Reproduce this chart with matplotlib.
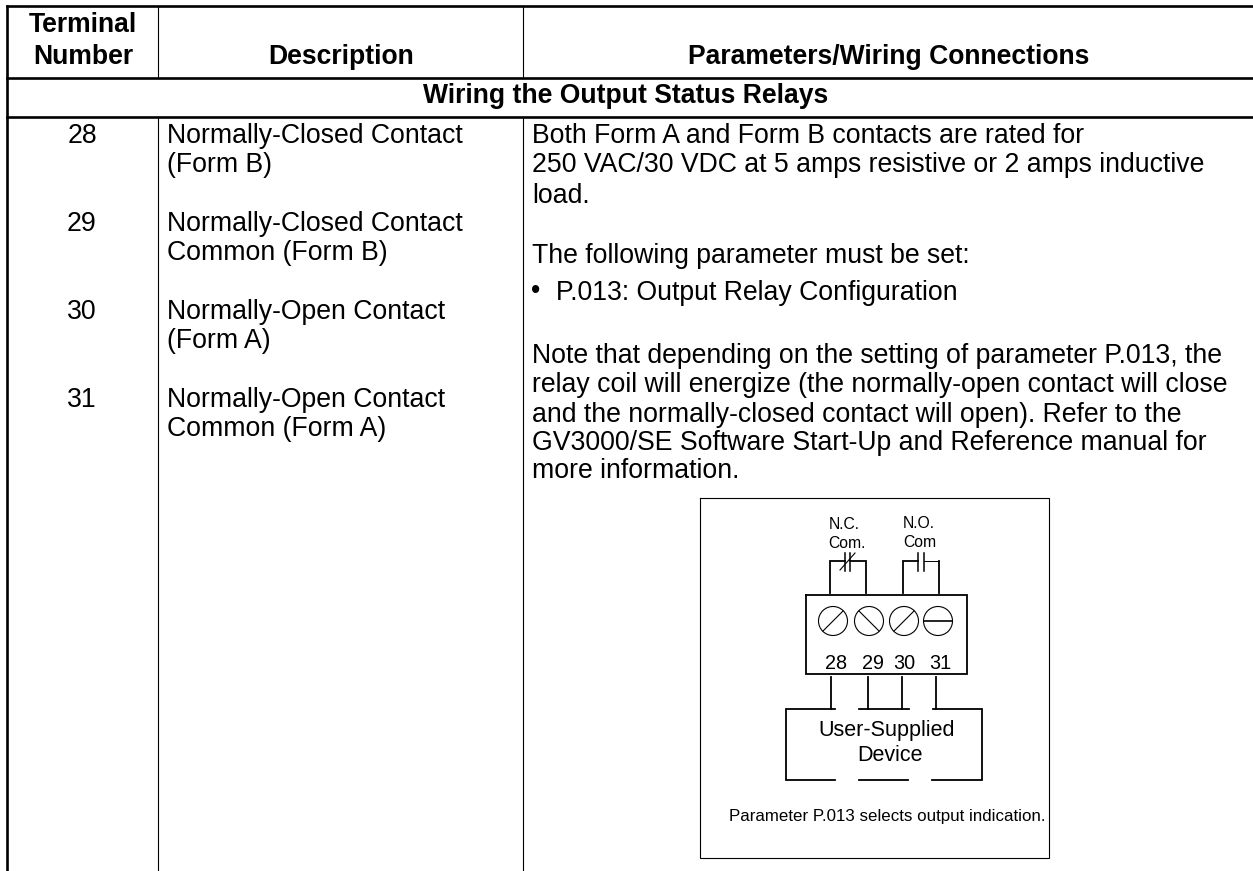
import matplotlib
matplotlib.use('Agg')
import matplotlib.pyplot as plt
from matplotlib.patches import Circle

plt.rcParams['font.family'] = ['Liberation Sans', 'DejaVu Sans']

W, H = 1253, 871
BODY = 19.15
BOLD = 19.1

SECTION = 'Wiring the Output Status Relays'
TERMINALS = ['28', '29', '30', '31']
DESC_LINES = ['Normally-Closed Contact', '(Form B)', 'Normally-Closed Contact', 'Common (Form B)',
              'Normally-Open Contact', '(Form A)', 'Normally-Open Contact', 'Common (Form A)']
NOTE_LINES = ['Both Form A and Form B contacts are rated for',
              '250 VAC/30 VDC at 5 amps resistive or 2 amps inductive',
              'load.',
              'The following parameter must be set:',
              'Note that depending on the setting of parameter P.013, the',
              'relay coil will energize (the normally-open contact will close',
              'and the normally-closed contact will open). Refer to the',
              'GV3000/SE Software Start-Up and Reference manual for',
              'more information.']

TERMINAL_Y = [143, 231, 319, 407]
DESC_Y = [143, 172, 231, 260, 319, 348, 407, 436]
NOTE_Y = [143, 172, 203, 263, 363, 392, 422, 450, 478]
SCREW_X = [833, 869, 904, 938]
SCREW_LABEL_X = [836, 873, 904, 940]
LEAD_X = [831, 868, 902, 936]


def line(ax, xs, ys, lw=1.3):
    ax.plot(xs, ys, color='black', lw=lw, solid_capstyle='projecting', solid_joinstyle='miter')


fig = plt.figure(figsize=(W / 100, H / 100), dpi=100)
ax = fig.add_axes([0, 0, 1, 1])
ax.set_xlim(0, W)
ax.set_ylim(H, 0)
ax.axis('off')

# table rules
for y in [6, 78, 117]:
    line(ax, [7, W + 5], [y, y], 1.9)
line(ax, [7, 7], [6, H + 5], 1.9)
for x in [158, 523]:
    line(ax, [x, x], [6, 78], 0.8)
    line(ax, [x, x], [117, H + 5], 0.8)

# header
ax.text(83, 32, 'Terminal', ha='center', va='baseline', fontsize=BOLD, fontweight='bold')
ax.text(83, 64, 'Number', ha='center', va='baseline', fontsize=BOLD, fontweight='bold')
ax.text(341, 64, 'Description', ha='center', va='baseline', fontsize=BOLD, fontweight='bold')
ax.text(889, 64, 'Parameters/Wiring Connections', ha='center', va='baseline', fontsize=BOLD, fontweight='bold')
ax.text(626, 103, SECTION, ha='center', va='baseline', fontsize=BOLD, fontweight='bold')

for num, y in zip(TERMINALS, TERMINAL_Y):
    ax.text(82, y, num, ha='center', va='baseline', fontsize=BODY)
for txt, y in zip(DESC_LINES, DESC_Y):
    ax.text(167, y, txt, ha='left', va='baseline', fontsize=BODY)
for txt, y in zip(NOTE_LINES, NOTE_Y):
    ax.text(532, y, txt, ha='left', va='baseline', fontsize=BODY)
ax.text(531, 298, '•', ha='left', va='baseline', fontsize=BODY)
ax.text(556, 300, 'P.013: Output Relay Configuration', ha='left', va='baseline', fontsize=BODY)

# wiring diagram frame
line(ax, [700, 1049, 1049, 700, 700], [498, 498, 858, 858, 498], 0.8)

# contacts
line(ax, [830, 830, 845], [593, 561, 561])
line(ax, [850, 866, 866], [561, 561, 593])
line(ax, [845, 845], [553, 571], 1.1)
line(ax, [850, 850], [553, 571], 1.1)
line(ax, [840, 855], [570, 553], 0.8)
line(ax, [903, 903, 918], [593, 561, 561])
line(ax, [924, 939], [561, 561], 0.7)
line(ax, [939, 939], [561, 593])
line(ax, [918, 918], [553, 571], 1.1)
line(ax, [924, 924], [553, 571], 1.1)
ax.text(844, 529, 'N.C.', ha='center', va='baseline', fontsize=11.3)
ax.text(847, 548, 'Com.', ha='center', va='baseline', fontsize=11.3)
ax.text(919, 528, 'N.O.', ha='center', va='baseline', fontsize=11.3)
ax.text(920, 547, 'Com', ha='center', va='baseline', fontsize=11.3)

# terminal block
line(ax, [806, 967, 967, 806, 806], [595, 595, 674, 674, 595], 1.3)
for x in SCREW_X:
    ax.add_patch(Circle((x, 621), 14.5, fc='none', ec='black', lw=0.8))
line(ax, [823, 843], [631, 611], 0.8)
line(ax, [859, 879], [611, 631], 0.8)
line(ax, [894, 914], [631, 611], 0.8)
line(ax, [924, 952], [621, 621], 1.2)
for label, x in zip(TERMINALS, SCREW_LABEL_X):
    ax.text(x, 669, label, ha='center', va='baseline', fontsize=14.3)

# leads to the device
for x in LEAD_X:
    line(ax, [x, x], [677, 709])

# user device
line(ax, [835, 786, 786, 835], [709, 709, 780, 780])
line(ax, [859, 909], [709, 709])
line(ax, [859, 908], [780, 780])
line(ax, [933, 982, 982, 932], [709, 709, 780, 780])
ax.text(887, 736, 'User-Supplied', ha='center', va='baseline', fontsize=15.5)
ax.text(890, 761, 'Device', ha='center', va='baseline', fontsize=15.5)
ax.text(729, 821, 'Parameter P.013 selects output indication.', ha='left', va='baseline', fontsize=12.2)

fig.savefig('out.png', dpi=100)
